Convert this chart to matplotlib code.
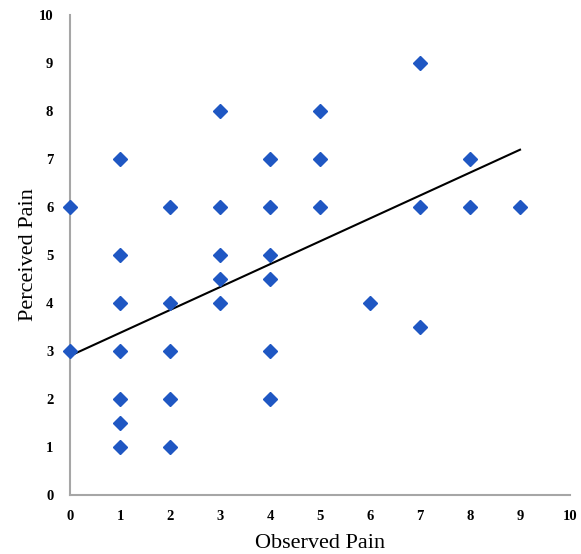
import matplotlib.pyplot as plt
import numpy as np

plt.rcParams['font.family'] = ['Liberation Serif', 'DejaVu Serif']

observed = [0, 0,
            1, 1, 1, 1, 1, 1, 1,
            2, 2, 2, 2, 2,
            3, 3, 3, 3, 3,
            4, 4, 4, 4, 4, 4,
            5, 5, 5,
            6,
            7, 7, 7,
            8, 8,
            9]
perceived = [6, 3,
             7, 5, 4, 3, 2, 1.5, 1,
             6, 4, 3, 2, 1,
             8, 6, 5, 4.5, 4,
             7, 6, 5, 4.5, 3, 2,
             8, 7, 6,
             4,
             9, 6, 3.5,
             7, 6,
             6]

# trend line
trend_intercept = 2.9
trend_slope = 0.477
trend_x = [0, 9]

fig = plt.figure(figsize=(5.81, 5.54), dpi=100)
ax = fig.add_axes([0.1205, 0.1065, 0.8606, 0.8665])

ax.plot(observed, perceived, 'D', color='#1f57c3', markersize=7, linestyle='none', clip_on=False, zorder=3)
tx = np.array(trend_x)
ax.plot(tx, trend_intercept + trend_slope * tx, color='black', linewidth=1.5, zorder=2)

ax.set_xlim(0, 10)
ax.set_ylim(0, 10)
ax.set_xticks(range(0, 11))
ax.set_yticks(range(0, 11))
ax.tick_params(length=0, labelsize=10.5)
ax.tick_params(axis='x', pad=11)
ax.tick_params(axis='y', pad=12)
for lab in ax.get_xticklabels() + ax.get_yticklabels():
    lab.set_fontweight('bold')
ax.spines['top'].set_visible(False)
ax.spines['right'].set_visible(False)
for s in ['left', 'bottom']:
    ax.spines[s].set_color('#a6a6a6')
    ax.spines[s].set_linewidth(1.5)

ax.set_xlabel('Observed Pain', fontsize=16)
ax.set_ylabel('Perceived Pain', fontsize=16)
ax.xaxis.set_label_coords(0.5, -0.081)
ax.yaxis.set_label_coords(-0.064, 0.5)

plt.savefig('out.png', dpi=100)
